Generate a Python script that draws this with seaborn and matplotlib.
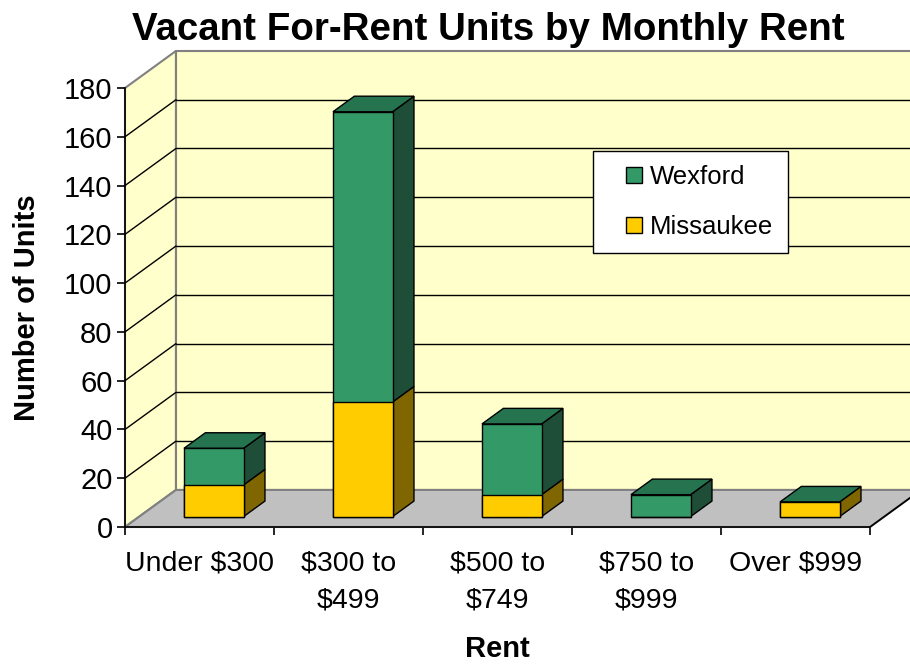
# Vacant for-rent units by monthly rent, drawn as a 3D-looking stacked bar chart

import numpy as np
import seaborn as sns
from matplotlib import pyplot as plt
from matplotlib.patches import Polygon
from matplotlib.lines import Line2D

# Chart data
categories = ["Under $300", "$300 to\n$499", "$500 to\n$749", "$750 to\n$999", "Over $999"]
wexford = [15, 119, 29, 9, 0]
missaukee = [13, 47, 9, 0, 6]
y_ticks = list(range(0, 181, 20))

# Colours (Excel style)
green_front, green_side, green_top = "#339966", "#1e4e37", "#267350"
yellow_front, yellow_side = "#ffcc00", "#806600"
wall_color, floor_color, edge_gray = "#ffffcc", "#c0c0c0", "#808080"

sns.set_style("white")
plt.rcParams['font.family'] = ['Liberation Sans', 'DejaVu Sans']
plt.rcParams['text.color'] = 'black'
plt.rcParams['axes.labelcolor'] = 'black'
plt.rcParams['xtick.color'] = 'black'
plt.rcParams['ytick.color'] = 'black'

totals = np.array(wexford) + np.array(missaukee)

fig = plt.figure(figsize=(9.1, 6.64), dpi=100)
ax = fig.add_axes([125 / 910, 137 / 664, 745 / 910, 439 / 664])
ax.set_facecolor('none')

# Depth of the 3D box in data units, and where the bars sit inside it
wall_dx, wall_dy = 0.342, 15.2
bar_front, bar_depth = 0.28, 0.42

# Front faces: total first (green), Missaukee over it (yellow)
sns.barplot(x=categories, y=totals, color=green_front, saturation=1, width=0.4,
            edgecolor='black', linewidth=1, ax=ax, zorder=5)
sns.barplot(x=categories, y=missaukee, color=yellow_front, saturation=1, width=0.4,
            edgecolor='black', linewidth=1, ax=ax, zorder=5)

green_bars = ax.patches[:len(categories)]
yellow_bars = ax.patches[len(categories):2 * len(categories)]

bdx, bdy = bar_depth * wall_dx, bar_depth * wall_dy
for g, yb in zip(green_bars, yellow_bars):
    for p in (g, yb):
        p.set_x(p.get_x() + bar_front * wall_dx)
        p.set_y(p.get_y() + bar_front * wall_dy)
    x0 = g.get_x()
    x1 = x0 + g.get_width()
    base = g.get_y()
    m_top = base + yb.get_height()
    t_top = base + g.get_height()
    # side faces for each segment
    for lo, hi, col in ((base, m_top, yellow_side), (m_top, t_top, green_side)):
        if hi - lo > 0:
            ax.add_patch(Polygon([(x1, lo), (x1 + bdx, lo + bdy), (x1 + bdx, hi + bdy), (x1, hi)],
                                 closed=True, facecolor=col, edgecolor='black', lw=1,
                                 zorder=4, clip_on=False))
    # top face
    ax.add_patch(Polygon([(x0, t_top), (x1, t_top), (x1 + bdx, t_top + bdy), (x0 + bdx, t_top + bdy)],
                         closed=True, facecolor=green_top, edgecolor='black', lw=1,
                         zorder=4, clip_on=False))

# Walls and floor
xl, xr = -0.5, len(categories) - 0.5
ytop = y_ticks[-1]
ax.add_patch(Polygon([(xl, 0), (xl, ytop), (xl + wall_dx, ytop + wall_dy), (xl + wall_dx, wall_dy)],
                     closed=True, facecolor=wall_color, edgecolor=edge_gray, lw=1.5, zorder=0, clip_on=False))
ax.add_patch(Polygon([(xl + wall_dx, wall_dy), (xr + wall_dx, wall_dy), (xr + wall_dx, ytop + wall_dy),
                      (xl + wall_dx, ytop + wall_dy)],
                     closed=True, facecolor=wall_color, edgecolor=edge_gray, lw=1.5, zorder=0, clip_on=False))
ax.add_patch(Polygon([(xl, 0), (xr, 0), (xr + wall_dx, wall_dy), (xl + wall_dx, wall_dy)],
                     closed=True, facecolor=floor_color, edgecolor=edge_gray, lw=1.5, zorder=1, clip_on=False))
ax.plot([xr, xr + wall_dx], [0, wall_dy], color='black', lw=1.2, zorder=2, clip_on=False)

# Gridlines on the back wall and the side wall
for yv in y_ticks[1:-1]:
    ax.plot([xl + wall_dx, xr + wall_dx], [yv + wall_dy, yv + wall_dy], color='black', lw=1, zorder=1, clip_on=False)
    ax.plot([xl, xl + wall_dx], [yv, yv + wall_dy], color='black', lw=1, zorder=1, clip_on=False)

ax.set_xlim(xl, xr)
ax.set_ylim(0, ytop)

# Axes, ticks and labels
for side in ('top', 'right'):
    ax.spines[side].set_visible(False)
for side in ('left', 'bottom'):
    ax.spines[side].set_color('black')
    ax.spines[side].set_linewidth(1.2)
    ax.spines[side].set_zorder(3)

ax.set_yticks(y_ticks)
ax.tick_params(axis='y', length=6, width=1.2, direction='out', labelsize=21, pad=3, left=True)
ax.set_xticks(range(len(categories)))
ax.set_xticklabels(categories)
ax.set_xticks(np.arange(xl, xr + 0.1, 1), minor=True)
ax.tick_params(axis='x', which='major', length=0, labelsize=20.5, pad=17)
ax.tick_params(axis='x', which='minor', length=6, width=1.2, direction='out', bottom=True)
for lbl in ax.get_xticklabels():
    lbl.set_linespacing(1.52)

ax.set_xlabel("Rent", fontsize=21, fontweight='bold')
ax.xaxis.set_label_coords(0.5, -0.246)
ax.set_ylabel("Number of Units", fontsize=21, fontweight='bold')
ax.yaxis.set_label_coords(-0.113, 0.5)
ax.set_title("Vacant For-Rent Units by Monthly Rent", fontsize=27.7, fontweight='bold',
             x=(488 - 125) / 745, y=(527 - 40) / 439, pad=0)

# Legend (square markers so the key sits further from the frame)
handles = [Line2D([], [], marker='s', markersize=11, linestyle='none', markerfacecolor=green_front,
                  markeredgecolor='black', markeredgewidth=1, label='Wexford'),
           Line2D([], [], marker='s', markersize=11, linestyle='none', markerfacecolor=yellow_front,
                  markeredgecolor='black', markeredgewidth=1, label='Missaukee')]
leg = ax.legend(handles=handles, loc='upper left', bbox_to_anchor=(593 / 910, 1 - 151 / 664),
                bbox_transform=fig.transFigure, borderaxespad=0, fontsize=18.5, frameon=True,
                fancybox=False, edgecolor='black', framealpha=1, handlelength=2.1,
                handletextpad=-0.44, labelspacing=1.0, borderpad=0.56)
leg.get_frame().set_linewidth(1)
leg.set_zorder(10)

plt.savefig("out.png", dpi=100)
